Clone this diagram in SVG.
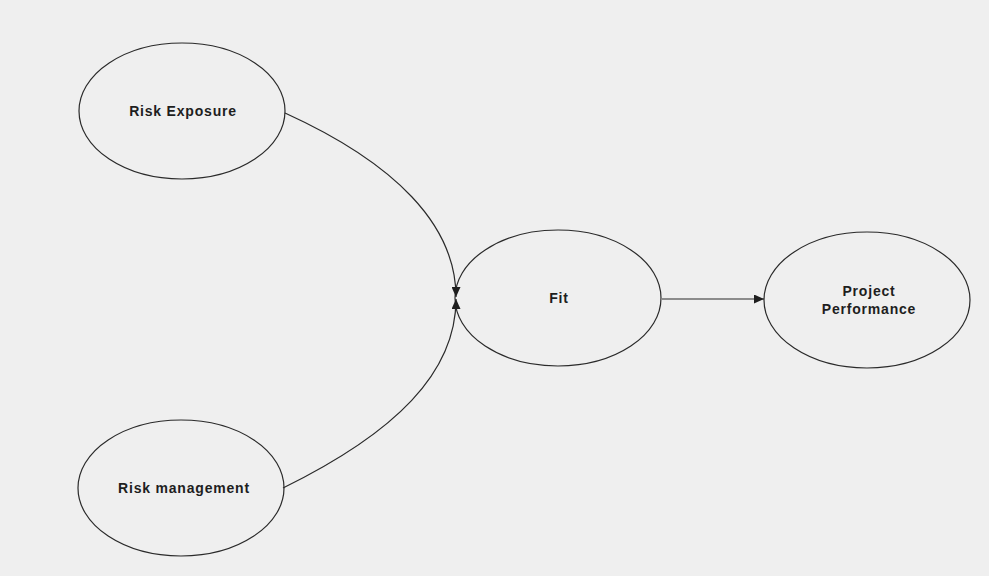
<svg xmlns="http://www.w3.org/2000/svg" width="989" height="576" viewBox="0 0 989 576">
<defs>
<style>
.node{fill:none;stroke:#2a2a2a;stroke-width:1.2}
.lbl{font-family:"Liberation Sans",Arial,sans-serif;font-weight:bold;font-size:14px;letter-spacing:0.8px;fill:#1e1e1e;text-anchor:middle}
.edge{fill:none;stroke:#2a2a2a;stroke-width:1.2}
</style>
<marker id="ah" viewBox="0 0 10 10" refX="10" refY="5" markerWidth="10" markerHeight="9" markerUnits="userSpaceOnUse" orient="auto" preserveAspectRatio="none">
<path d="M0,0 L10,5 L0,10 Z" fill="#1e1e1e"/>
</marker>
</defs>
<rect width="989" height="576" fill="#efefef"/>
<g id="risk-exposure">
<ellipse class="node" cx="182" cy="111" rx="103" ry="68"/>
<text class="lbl" x="183" y="116">Risk Exposure</text>
</g>
<g id="risk-management">
<ellipse class="node" cx="181" cy="488" rx="103" ry="68"/>
<text class="lbl" x="184" y="493">Risk management</text>
</g>
<g id="fit">
<ellipse class="node" cx="558" cy="298" rx="103" ry="68"/>
<text class="lbl" x="559" y="303">Fit</text>
</g>
<g id="project-performance">
<ellipse class="node" cx="867" cy="300" rx="103" ry="68"/>
<text class="lbl" x="869" y="296">Project</text>
<text class="lbl" x="869" y="314">Performance</text>
</g>
<g id="connectors">
<path class="edge" d="M285,113 C395,163 456,225 456,297" marker-end="url(#ah)"/>
<path class="edge" d="M283,488 C395,433 456,373 456,299" marker-end="url(#ah)"/>
<path class="edge" d="M662,299 L764,299" marker-end="url(#ah)"/>
</g>
</svg>
